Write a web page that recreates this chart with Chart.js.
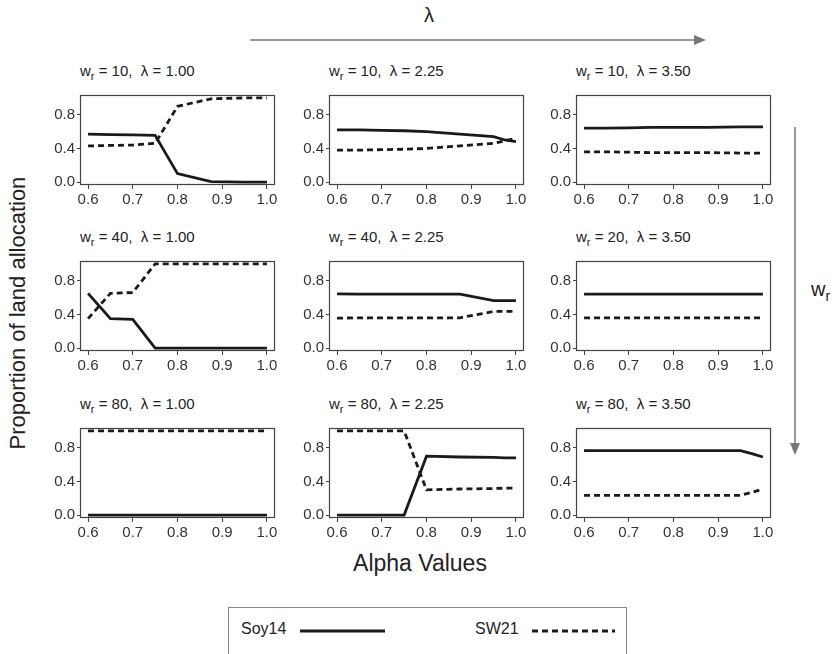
<!DOCTYPE html>
<html>
<head>
<meta charset="utf-8">
<script src="https://cdn.jsdelivr.net/npm/chart.js@4.4.0/dist/chart.umd.min.js"></script>
<style>
  body { margin: 0; background: #fff; font-family: "Liberation Sans", Arial, sans-serif; color: #222; }
  #page { position: relative; width: 840px; height: 654px; overflow: hidden; }
  .panel { position: absolute; }
  .ptitle { position: absolute; font-size: 15px; white-space: pre; color: #222; }
  .ptitle sub { font-size: 11px; }
  .lbl { position: absolute; color: #222; }
</style>
</head>
<body>
<div id="page">
  <svg width="840" height="654" style="position:absolute;left:0;top:0">
    <line x1="250" y1="40" x2="695" y2="40" stroke="#777" stroke-width="1.5"/>
    <polygon points="706,40 694,35 694,45" fill="#777"/>
    <line x1="795" y1="127" x2="795" y2="444" stroke="#777" stroke-width="1.5"/>
    <polygon points="795,455 790,443 800,443" fill="#777"/>
    <rect x="228.5" y="607.5" width="398" height="50" fill="none" stroke="#888" stroke-width="1"/>
    <line x1="300" y1="631" x2="385" y2="631" stroke="#1a1a1a" stroke-width="3"/>
    <line x1="532" y1="631" x2="615" y2="631" stroke="#1a1a1a" stroke-width="3" stroke-dasharray="6,4"/>
  </svg>
  <div class="lbl" style="left:424px;top:4px;font-size:20px">λ</div>
  <div class="lbl" style="left:811px;top:278px;font-size:20px">w<sub style="font-size:14px">r</sub></div>
  <div class="lbl" style="left:-142px;top:300px;width:320px;text-align:center;font-size:22px;transform:rotate(-90deg)">Proportion of land allocation</div>
  <div class="lbl" style="left:270px;top:550px;width:300px;text-align:center;font-size:23px">Alpha Values</div>
  <div class="lbl" style="left:241px;top:620px;font-size:16px">Soy14</div>
  <div class="lbl" style="left:475px;top:620px;font-size:16px">SW21</div>
</div>
<script>
// alpha values on the x axis
var alphas = [0.6, 0.65, 0.7, 0.75, 0.8, 0.875, 0.95, 0.975, 1.0];

var wrValues = [10, 10, 10, 40, 40, 20, 80, 80, 80];
var lambdaValues = ["1.00", "2.25", "3.50", "1.00", "2.25", "3.50", "1.00", "2.25", "3.50"];

// Soy14 (solid) and SW21 (dashed) for each panel
var soy_10_100 = [0.57, 0.565, 0.56, 0.555, 0.10, 0.005, 0.0, 0.0, 0.0];
var sw_10_100 = [0.43, 0.435, 0.44, 0.46, 0.90, 0.99, 1.0, 1.0, 1.0];
var soy_10_225 = [0.62, 0.62, 0.615, 0.61, 0.60, 0.57, 0.54, 0.50, 0.48];
var sw_10_225 = [0.38, 0.38, 0.385, 0.39, 0.40, 0.43, 0.46, 0.49, 0.52];
var soy_10_350 = [0.64, 0.64, 0.645, 0.65, 0.65, 0.65, 0.655, 0.655, 0.655];
var sw_10_350 = [0.36, 0.36, 0.355, 0.35, 0.35, 0.35, 0.345, 0.345, 0.345];
var soy_40_100 = [0.65, 0.35, 0.34, 0.0, 0.0, 0.0, 0.0, 0.0, 0.0];
var sw_40_100 = [0.35, 0.65, 0.66, 1.0, 1.0, 1.0, 1.0, 1.0, 1.0];
var soy_40_225 = [0.645, 0.64, 0.64, 0.64, 0.64, 0.64, 0.565, 0.565, 0.565];
var sw_40_225 = [0.355, 0.36, 0.36, 0.36, 0.36, 0.36, 0.435, 0.435, 0.435];
var soy_20_350 = [0.64, 0.64, 0.64, 0.64, 0.64, 0.64, 0.64, 0.64, 0.64];
var sw_20_350 = [0.36, 0.36, 0.36, 0.36, 0.36, 0.36, 0.36, 0.36, 0.36];
var soy_80_100 = [0.0, 0.0, 0.0, 0.0, 0.0, 0.0, 0.0, 0.0, 0.0];
var sw_80_100 = [1.0, 1.0, 1.0, 1.0, 1.0, 1.0, 1.0, 1.0, 1.0];
var soy_80_225 = [0.0, 0.0, 0.0, 0.0, 0.70, 0.69, 0.685, 0.68, 0.68];
var sw_80_225 = [1.0, 1.0, 1.0, 1.0, 0.30, 0.31, 0.315, 0.32, 0.32];
var soy_80_350 = [0.765, 0.765, 0.765, 0.765, 0.765, 0.765, 0.765, 0.73, 0.69];
var sw_80_350 = [0.235, 0.235, 0.235, 0.235, 0.235, 0.235, 0.235, 0.27, 0.31];

var yTicks = [0.0, 0.2, 0.4, 0.6, 0.8, 1.0];
var xTicks = [0.6, 0.7, 0.8, 0.9, 1.0];

var soyAll = [soy_10_100, soy_10_225, soy_10_350, soy_40_100, soy_40_225, soy_20_350, soy_80_100, soy_80_225, soy_80_350];
var swAll = [sw_10_100, sw_10_225, sw_10_350, sw_40_100, sw_40_225, sw_20_350, sw_80_100, sw_80_225, sw_80_350];

var colLeft = [80, 329, 576];
var rowTop = [87, 253, 420];
var boxW = 195, boxH = 98;
var yAxisW = 36, xAxisH = 22, padTop = 3, padRight = 12;

function pts(vals) {
  return vals.map(function (v, i) { return { x: alphas[i], y: v }; });
}

var boxPlugin = {
  id: "box",
  afterDraw: function (chart) {
    var a = chart.chartArea, ctx = chart.ctx;
    ctx.save();
    ctx.strokeStyle = "#444";
    ctx.lineWidth = 1.2;
    ctx.strokeRect(a.left + 0.5, a.top + 0.5, a.right - a.left - 1, a.bottom - a.top - 1);
    ctx.restore();
  }
};

var page = document.getElementById("page");

for (let i = 0; i < 9; i++) {
  let r = Math.floor(i / 3), c = i % 3;
  let left = colLeft[c], top = rowTop[r];

  let t = document.createElement("div");
  t.className = "ptitle";
  t.style.left = left + "px";
  t.style.top = (top - 25) + "px";
  t.innerHTML = "w<sub>r</sub> = " + wrValues[i] + ",  λ = " + lambdaValues[i];
  page.appendChild(t);

  let wrap = document.createElement("div");
  wrap.className = "panel";
  let cw = yAxisW + boxW + padRight, ch = padTop + boxH + xAxisH;
  wrap.style.left = (left - yAxisW) + "px";
  wrap.style.top = (top - padTop) + "px";
  wrap.style.width = cw + "px";
  wrap.style.height = ch + "px";
  let cv = document.createElement("canvas");
  wrap.appendChild(cv);
  page.appendChild(wrap);

  new Chart(cv, {
    type: "line",
    data: {
      datasets: [
        { label: "Soy14", data: pts(soyAll[i]), borderColor: "#1a1a1a", borderWidth: 2.8, pointRadius: 0, tension: 0 },
        { label: "SW21", data: pts(swAll[i]), borderColor: "#1a1a1a", borderWidth: 2.8, borderDash: [6, 4], pointRadius: 0, tension: 0 }
      ]
    },
    options: {
      responsive: true,
      maintainAspectRatio: false,
      animation: false,
      layout: { padding: { top: padTop, right: padRight, left: 0, bottom: 0 } },
      plugins: { legend: { display: false }, tooltip: { enabled: false } },
      scales: {
        x: {
          type: "linear",
          min: 0.582,
          max: 1.018,
          afterBuildTicks: function (s) { s.ticks = xTicks.map(function (v) { return { value: v }; }); },
          afterFit: function (s) { s.height = xAxisH; },
          grid: { drawOnChartArea: false, drawTicks: true, tickLength: 4, color: "#444" },
          border: { display: false },
          ticks: { color: "#333", padding: 2, maxRotation: 0, font: { family: "Liberation Sans", size: 15 },
            callback: function (v) { return v.toFixed(1); } }
        },
        y: {
          min: -0.035,
          max: 1.035,
          afterBuildTicks: function (s) { s.ticks = yTicks.map(function (v) { return { value: v }; }); },
          afterFit: function (s) { s.width = yAxisW; },
          grid: { drawOnChartArea: false, drawTicks: true, tickLength: 3, color: "#444" },
          border: { display: false },
          ticks: { color: "#333", padding: 2, font: { family: "Liberation Sans", size: 15 },
            callback: function (v) {
              var k = Math.round(v * 10);
              return (k === 0 || k === 4 || k === 8) ? v.toFixed(1) : "";
            } }
        }
      }
    },
    plugins: [boxPlugin]
  });
}
</script>
</body>
</html>
